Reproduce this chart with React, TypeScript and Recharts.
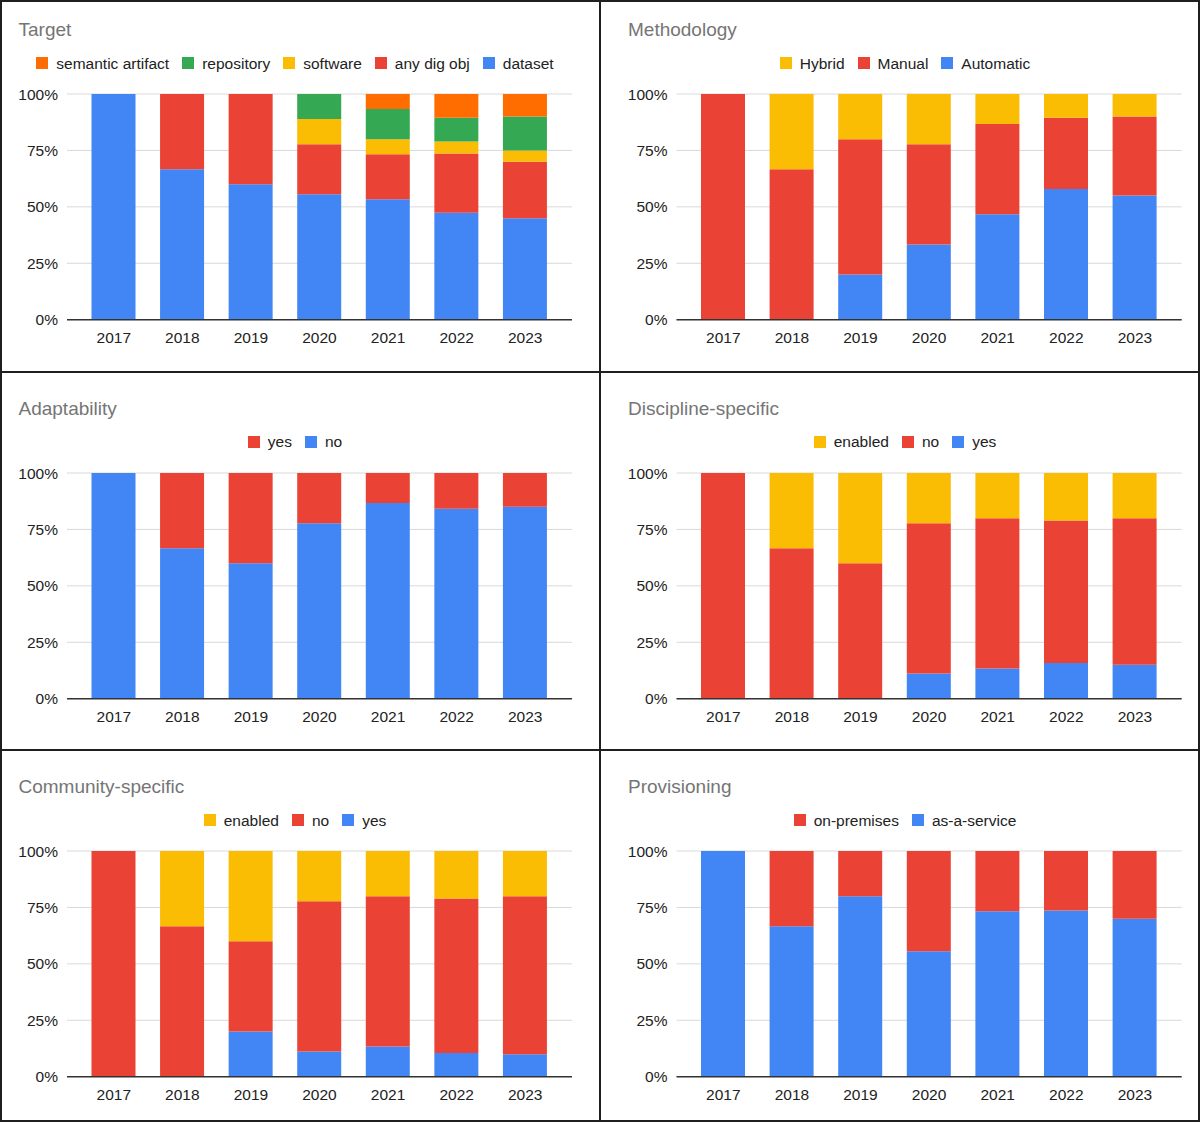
import React from 'react';
import { BarChart, Bar, XAxis, YAxis, CartesianGrid } from 'recharts';

const FONT = '"Liberation Sans", Arial, sans-serif';

const BLUE = '#4285F4';
const RED = '#EA4335';
const YELLOW = '#FBBC04';
const GREEN = '#34A853';
const ORANGE = '#FF6D01';

const years = ['2017', '2018', '2019', '2020', '2021', '2022', '2023'];
const percentTicks = [0, 0.25, 0.5, 0.75, 1];

// tool counts per year (the bars are shares of the yearly total)
const targetDataset = [1, 2, 3, 5, 8, 9, 9];
const targetAnyDigObj = [0, 1, 2, 2, 3, 5, 5];
const targetSoftware = [0, 0, 0, 1, 1, 1, 1];
const targetRepository = [0, 0, 0, 1, 2, 2, 3];
const targetSemantic = [0, 0, 0, 0, 1, 2, 2];

const methAutomatic = [0, 0, 1, 3, 7, 11, 11];
const methManual = [1, 2, 3, 4, 6, 6, 7];
const methHybrid = [0, 1, 1, 2, 2, 2, 2];

const adaptNo = [1, 2, 3, 7, 13, 16, 17];
const adaptYes = [0, 1, 2, 2, 2, 3, 3];

const discYes = [0, 0, 0, 1, 2, 3, 3];
const discNo = [1, 2, 3, 6, 10, 12, 13];
const discEnabled = [0, 1, 2, 2, 3, 4, 4];

const commYes = [0, 0, 1, 1, 2, 2, 2];
const commNo = [1, 2, 2, 6, 10, 13, 14];
const commEnabled = [0, 1, 2, 2, 3, 4, 4];

const provService = [1, 2, 4, 5, 11, 14, 14];
const provOnPrem = [0, 1, 1, 4, 4, 5, 6];

type Series = { key: string; name: string; color: string; values: number[] };

interface PanelProps {
  title: string;
  series: Series[]; // bottom of the stack first
  col: 0 | 1;
  gridTop: number;
}

const COLS = [
  { x: 0, plotLeft: 67, plotRight: 572, titleX: 18.5, legendCenter: 295 },
  { x: 600, plotLeft: 76.5, plotRight: 581.7, titleX: 28, legendCenter: 305 },
];

const CHART_H = 374;
const TOP = 94;
const PLOT_H = 225.7;
const XAXIS_H = 30;

const Panel: React.FC<PanelProps> = ({ title, series, col, gridTop }) => {
  const c = COLS[col];
  const data = years.map((year, i) => {
    const row: Record<string, any> = { year };
    series.forEach((s) => {
      row[s.key] = s.values[i];
    });
    return row;
  });

  return (
    <>
      <div
        style={{
          position: 'absolute',
          left: c.x + c.titleX,
          top: gridTop - 74,
          fontSize: 19,
          lineHeight: '19px',
          color: '#757575',
          whiteSpace: 'nowrap',
        }}
      >
        {title}
      </div>
      <div
        style={{
          position: 'absolute',
          left: c.x + c.legendCenter - 300,
          width: 600,
          top: gridTop - 41,
          height: 20,
          display: 'flex',
          justifyContent: 'center',
          alignItems: 'center',
        }}
      >
        {[...series].reverse().map((s, i, arr) => (
          <div
            key={s.key}
            style={{
              display: 'flex',
              alignItems: 'center',
              marginRight: i < arr.length - 1 ? 13 : 0,
            }}
          >
            <span style={{ width: 12, height: 12, background: s.color, marginRight: 8, display: 'inline-block' }} />
            <span style={{ fontSize: 15.5, lineHeight: '15.5px', color: '#222', whiteSpace: 'nowrap' }}>{s.name}</span>
          </div>
        ))}
      </div>
      <div style={{ position: 'absolute', left: c.x, top: gridTop - TOP }}>
        <BarChart
          width={600}
          height={CHART_H}
          data={data}
          stackOffset="expand"
          margin={{ top: TOP, right: 600 - c.plotRight, bottom: CHART_H - TOP - PLOT_H - XAXIS_H, left: 0 }}
        >
          <CartesianGrid vertical={false} stroke="#d9d9d9" />
          <XAxis
            dataKey="year"
            height={XAXIS_H}
            interval={0}
            tickLine={false}
            tickSize={0}
            tickMargin={12}
            padding={{ left: 12.5, right: 12.5 }}
            axisLine={{ stroke: '#333', strokeWidth: 1.5 }}
            tick={{ fill: '#222', fontSize: 15.5, fontFamily: FONT }}
          />
          <YAxis
            width={c.plotLeft}
            domain={[0, 1]}
            ticks={percentTicks}
            tickFormatter={(v: number) => `${Math.round(v * 100)}%`}
            axisLine={false}
            tickLine={false}
            tickSize={0}
            tickMargin={9}
            tick={{ fill: '#222', fontSize: 15.5, fontFamily: FONT }}
          />
          {series.map((s) => (
            <Bar
              key={s.key}
              dataKey={s.key}
              name={s.name}
              stackId="a"
              fill={s.color}
              barSize={44}
              isAnimationActive={false}
            />
          ))}
        </BarChart>
      </div>
    </>
  );
};

const targetSeries: Series[] = [
  { key: 'dataset', name: 'dataset', color: BLUE, values: targetDataset },
  { key: 'anyDigObj', name: 'any dig obj', color: RED, values: targetAnyDigObj },
  { key: 'software', name: 'software', color: YELLOW, values: targetSoftware },
  { key: 'repository', name: 'repository', color: GREEN, values: targetRepository },
  { key: 'semantic', name: 'semantic artifact', color: ORANGE, values: targetSemantic },
];

const methodologySeries: Series[] = [
  { key: 'automatic', name: 'Automatic', color: BLUE, values: methAutomatic },
  { key: 'manual', name: 'Manual', color: RED, values: methManual },
  { key: 'hybrid', name: 'Hybrid', color: YELLOW, values: methHybrid },
];

const adaptabilitySeries: Series[] = [
  { key: 'no', name: 'no', color: BLUE, values: adaptNo },
  { key: 'yes', name: 'yes', color: RED, values: adaptYes },
];

const disciplineSeries: Series[] = [
  { key: 'yes', name: 'yes', color: BLUE, values: discYes },
  { key: 'no', name: 'no', color: RED, values: discNo },
  { key: 'enabled', name: 'enabled', color: YELLOW, values: discEnabled },
];

const communitySeries: Series[] = [
  { key: 'yes', name: 'yes', color: BLUE, values: commYes },
  { key: 'no', name: 'no', color: RED, values: commNo },
  { key: 'enabled', name: 'enabled', color: YELLOW, values: commEnabled },
];

const provisioningSeries: Series[] = [
  { key: 'service', name: 'as-a-service', color: BLUE, values: provService },
  { key: 'onPrem', name: 'on-premises', color: RED, values: provOnPrem },
];

const LINE = '#1f1f1f';
const rule = (left: number, top: number, width: number, height: number) => (
  <div style={{ position: 'absolute', left, top, width, height, background: LINE }} />
);

export default function App() {
  return (
    <div
      style={{
        position: 'relative',
        width: 1200,
        height: 1122,
        background: '#fff',
        overflow: 'hidden',
        fontFamily: FONT,
      }}
    >
      <style>{'body{margin:0}'}</style>
      <Panel title="Target" series={targetSeries} col={0} gridTop={94.3} />
      <Panel title="Methodology" series={methodologySeries} col={1} gridTop={94.3} />
      <Panel title="Adaptability" series={adaptabilitySeries} col={0} gridTop={473} />
      <Panel title="Discipline-specific" series={disciplineSeries} col={1} gridTop={473} />
      <Panel title="Community-specific" series={communitySeries} col={0} gridTop={851.3} />
      <Panel title="Provisioning" series={provisioningSeries} col={1} gridTop={851.3} />
      {rule(0, 0, 1200, 2)}
      {rule(0, 1120, 1200, 2)}
      {rule(0, 0, 2, 1122)}
      {rule(1198, 0, 2, 1122)}
      {rule(599, 0, 2, 1122)}
      {rule(0, 371, 1200, 2)}
      {rule(0, 749, 1200, 2)}
    </div>
  );
}
